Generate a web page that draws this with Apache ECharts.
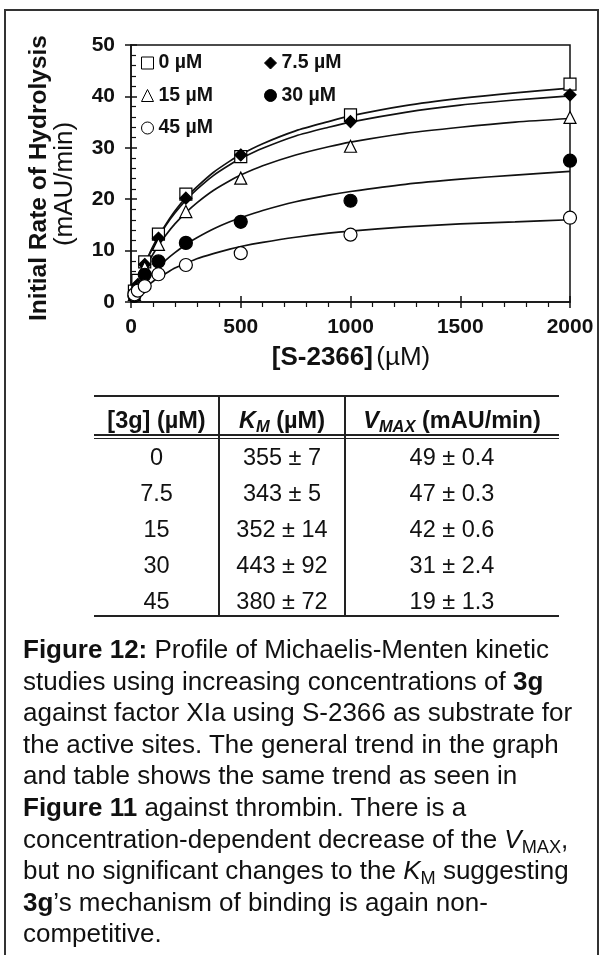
<!DOCTYPE html>
<html>
<head>
<meta charset="utf-8">
<script src="https://cdn.jsdelivr.net/npm/echarts@6/dist/echarts.min.js"></script>
<style>
  html, body { margin:0; padding:0; background:#fff; }
  #wrap { position:relative; width:601px; height:955px; overflow:hidden; font-family:"Liberation Sans", Arial, sans-serif; color:#111; }
  #chart { position:absolute; left:0; top:0; width:601px; height:955px; }
  #frame { position:absolute; left:4px; top:9px; width:595px; height:960px; border:2px solid #333; border-bottom:none; box-sizing:border-box; pointer-events:none; }
  .hl { position:absolute; background:#222; }
  .cell { position:absolute; text-align:center; font-size:23.5px; line-height:26px; }
  .hdr { font-weight:bold; }
  #caption { position:absolute; left:23px; top:634px; font-size:26px; line-height:31.6px; white-space:nowrap; }
  sub { font-size:0.7em; vertical-align:-0.25em; line-height:0; }
</style>
</head>
<body>
<div id="wrap">
  <div id="chart"></div>
  <div id="frame"></div>
  <div id="table"></div>
  <div id="caption"></div>
</div>
<script>
// ---------------- data ----------------
const substrate = [15.6, 31.25, 62.5, 125, 250, 500, 1000, 2000];
const rate0   = [2.1, 4.2, 7.8, 13.2, 21.0, 28.3, 36.4, 42.4];
const rate7_5 = [2.0, 3.4, 7.3, 12.4, 20.2, 28.6, 35.1, 40.3];
const rate15  = [1.5, 2.9, 6.7, 11.2, 17.6, 24.1, 30.3, 35.9];
const rate30  = [1.2, 2.4, 5.3, 7.9, 11.5, 15.6, 19.7, 27.5];
const rate45  = [1.5, 2.2, 3.1, 5.4, 7.2, 9.5, 13.1, 16.4];

// fitted curves
const fitX    = [0, 10, 20, 31.25, 45, 62.5, 80, 100, 125, 160, 200, 250, 300, 375, 450, 500, 600, 750, 900, 1000, 1250, 1500, 1750, 2000];
const fit0    = [0, 1.3, 2.6, 4.0, 5.5, 7.3, 9.0, 10.8, 12.8, 15.2, 17.7, 20.3, 22.4, 25.2, 27.4, 28.7, 30.8, 33.3, 35.1, 36.2, 38.2, 39.6, 40.7, 41.6];
const fit7_5  = [0, 1.3, 2.6, 3.9, 5.5, 7.2, 8.9, 10.6, 12.6, 15.0, 17.3, 19.8, 21.9, 24.6, 26.7, 27.9, 29.9, 32.3, 34.0, 35.0, 36.9, 38.3, 39.3, 40.1];
const fit15   = [0, 1.2, 2.3, 3.4, 4.8, 6.3, 7.8, 9.3, 11.0, 13.1, 15.2, 17.4, 19.3, 21.7, 23.6, 24.7, 26.5, 28.6, 30.2, 31.1, 32.8, 34.0, 35.0, 35.7];
const fit30   = [0, 0.7, 1.3, 2.0, 2.9, 3.8, 4.7, 5.7, 6.8, 8.2, 9.6, 11.2, 12.5, 14.2, 15.6, 16.4, 17.8, 19.5, 20.8, 21.5, 22.9, 23.9, 24.7, 25.4];
const fit45   = [0, 0.5, 1.0, 1.4, 2.0, 2.7, 3.3, 4.0, 4.7, 5.6, 6.6, 7.5, 8.4, 9.4, 10.3, 10.8, 11.6, 12.6, 13.4, 13.8, 14.6, 15.2, 15.6, 16.0];

const seriesNames = ['0 µM', '7.5 µM', '15 µM', '30 µM', '45 µM'];
const xTicks = [0, 500, 1000, 1500, 2000];
const yTicks = [0, 10, 20, 30, 40, 50];

const tableHeader = ['[3g] (µM)', 'K_M (µM)', 'V_MAX (mAU/min)'];
const conc3g = ['0', '7.5', '15', '30', '45'];
const kmVals = ['355 ± 7', '343 ± 5', '352 ± 14', '443 ± 92', '380 ± 72'];
const vmaxVals = ['49 ± 0.4', '47 ± 0.3', '42 ± 0.6', '31 ± 2.4', '19 ± 1.3'];

// ---------------- chart ----------------
const FONT = '"Liberation Sans", Arial, sans-serif';
const pairs = (xs, ys) => xs.map((x, i) => [x, ys[i]]);

const markers = [
  { sym: 'rect', size: 12, fill: '#fff' },
  { sym: 'diamond', size: 12, fill: '#000' },
  { sym: 'triangle', size: 12, fill: '#fff' },
  { sym: 'circle', size: 13, fill: '#000' },
  { sym: 'circle', size: 13, fill: '#fff' }
];
const rates = [rate0, rate7_5, rate15, rate30, rate45];
const fits = [fit0, fit7_5, fit15, fit30, fit45];

const series = [];
fits.forEach((f, i) => {
  series.push({
    name: seriesNames[i] + ' fit', type: 'line', data: pairs(fitX, f),
    smooth: 0.25, showSymbol: false, silent: true,
    lineStyle: { color: '#111', width: 1.7 }, z: 2
  });
});
rates.forEach((r, i) => {
  series.push({
    name: seriesNames[i], type: 'scatter', data: pairs(substrate, r),
    symbol: markers[i].sym, symbolSize: markers[i].size,
    itemStyle: { color: markers[i].fill, borderColor: '#000', borderWidth: 1.2, opacity: 1 },
    z: 5
  });
});

const legendItem = (i) => ({
  name: seriesNames[i], icon: markers[i].sym,
  itemStyle: { color: markers[i].fill, borderColor: '#000', borderWidth: 1 }
});
const legendText = { fontFamily: FONT, fontWeight: 'bold', fontSize: 19.5, color: '#111', lineHeight: 20 };

const axisLabelStyle = { fontFamily: FONT, fontWeight: 'bold', fontSize: 21, color: '#111' };

const option = {
  animation: false,
  backgroundColor: 'transparent',
  grid: { left: 131, top: 45, width: 439, height: 257, show: true, borderColor: '#111', borderWidth: 1.5, backgroundColor: 'transparent', outerBoundsMode: 'none' },
  legend: [
    { orient: 'vertical', left: 141, top: 53, itemWidth: 12, itemHeight: 12, itemGap: 12.5, textStyle: legendText, padding: 0,
      data: [legendItem(0), legendItem(2), legendItem(4)], selectedMode: false },
    { orient: 'vertical', left: 264, top: 53, itemWidth: 12, itemHeight: 12, itemGap: 12.5, textStyle: legendText, padding: 0,
      data: [legendItem(1), legendItem(3)], selectedMode: false }
  ],
  xAxis: [
    { type: 'value', min: 0, max: 2000, interval: 500, position: 'bottom',
      axisLine: { show: true, onZero: false, lineStyle: { color: '#111', width: 1.5 } },
      axisTick: { show: true, inside: false, length: 6, lineStyle: { color: '#111', width: 1.5 } },
      minorTick: { show: true, splitNumber: 5, length: 5, lineStyle: { color: '#111', width: 1.2 } },
      splitLine: { show: false },
      axisLabel: Object.assign({ margin: 15, formatter: (v) => xTicks.includes(v) ? String(v) : '' }, axisLabelStyle) },
    { type: 'value', min: 0, max: 2000, interval: 500, position: 'bottom',
      axisLine: { show: false, onZero: false },
      axisTick: { show: true, inside: true, length: 6, lineStyle: { color: '#111', width: 1.5 } },
      splitLine: { show: false }, axisLabel: { show: false } }
  ],
  yAxis: [
    { type: 'value', min: 0, max: 50, interval: 10, position: 'left',
      axisLine: { show: true, onZero: false, lineStyle: { color: '#111', width: 1.5 } },
      axisTick: { show: true, inside: false, length: 6, lineStyle: { color: '#111', width: 1.5 } },
      splitLine: { show: false },
      axisLabel: Object.assign({ margin: 16, formatter: (v) => yTicks.includes(v) ? String(v) : '' }, axisLabelStyle) },
    { type: 'value', min: 0, max: 50, interval: 10, position: 'left',
      axisLine: { show: false, onZero: false },
      axisTick: { show: true, inside: true, length: 6, lineStyle: { color: '#111', width: 1.5 } },
      minorTick: { show: true, splitNumber: 5, length: 5, lineStyle: { color: '#111', width: 1.2 } },
      splitLine: { show: false }, axisLabel: { show: false } }
  ],
  graphic: [
    { type: 'text', x: 39, y: 178, rotation: Math.PI / 2,
      style: { text: 'Initial Rate of Hydrolysis', fill: '#111', font: 'bold 24.5px ' + FONT, align: 'center', verticalAlign: 'middle' } },
    { type: 'text', x: 65, y: 184, rotation: Math.PI / 2,
      style: { text: '(mAU/min)', fill: '#111', font: '26px ' + FONT, align: 'center', verticalAlign: 'middle' } },
    { type: 'text', x: 351, y: 358,
      style: { text: '{b|[S-2366]} {n|(µM)}', fill: '#111', align: 'center', verticalAlign: 'middle',
        rich: { b: { fontFamily: FONT, fontWeight: 'bold', fontSize: 26, fill: '#111' },
                n: { fontFamily: FONT, fontSize: 26, fill: '#111' } } } }
  ],
  series: series
};

const chart = echarts.init(document.getElementById('chart'), null, { renderer: 'canvas' });
chart.setOption(option);

// ---------------- table ----------------
const table = document.getElementById('table');
const colEdges = [94, 219, 345, 559];
const headerY = 420, rowY0 = 457, rowStep = 36;
function hline(x1, x2, y, h) {
  const d = document.createElement('div'); d.className = 'hl';
  d.style.left = x1 + 'px'; d.style.width = (x2 - x1) + 'px'; d.style.top = y + 'px'; d.style.height = h + 'px';
  table.appendChild(d);
}
function vline(x, y1, y2) {
  const d = document.createElement('div'); d.className = 'hl';
  d.style.left = x + 'px'; d.style.width = '2px'; d.style.top = y1 + 'px'; d.style.height = (y2 - y1) + 'px';
  table.appendChild(d);
}
function fmtHeader(t) {
  return t.replace(/^K_M/, '<i>K<sub>M</sub></i>').replace(/^V_MAX/, '<i>V<sub>MAX</sub></i>');
}
function cell(col, y, html, cls) {
  const d = document.createElement('div'); d.className = 'cell ' + (cls || '');
  d.style.left = colEdges[col] + 'px'; d.style.width = (colEdges[col + 1] - colEdges[col]) + 'px';
  d.style.top = (y - 13) + 'px'; d.innerHTML = html;
  table.appendChild(d);
}
hline(colEdges[0], colEdges[3], 395, 2);
hline(colEdges[0], colEdges[3], 434, 1.5);
hline(colEdges[0], colEdges[3], 437.5, 1.5);
hline(colEdges[0], colEdges[3], 615, 2);
vline(colEdges[1] - 1, 395, 617);
vline(colEdges[2] - 1, 395, 617);
tableHeader.forEach((t, c) => cell(c, headerY, fmtHeader(t), 'hdr'));
conc3g.forEach((v, r) => {
  const y = rowY0 + r * rowStep;
  cell(0, y, v); cell(1, y, kmVals[r]); cell(2, y, vmaxVals[r]);
});

// ---------------- caption ----------------
const captionLines = [
  '<b>Figure 12:</b> Profile of Michaelis-Menten kinetic',
  'studies using increasing concentrations of <b>3g</b>',
  'against factor XIa using S-2366 as substrate for',
  'the active sites. The general trend in the graph',
  'and table shows the same trend as seen in',
  '<b>Figure 11</b> against thrombin. There is a',
  'concentration-dependent decrease of the <i>V</i><sub>MAX</sub>,',
  'but no significant changes to the <i>K</i><sub>M</sub> suggesting',
  '<b>3g</b>’s mechanism of binding is again non-',
  'competitive.'
];
document.getElementById('caption').innerHTML = captionLines.map(l => '<div>' + l + '</div>').join('');
</script>
</body>
</html>
